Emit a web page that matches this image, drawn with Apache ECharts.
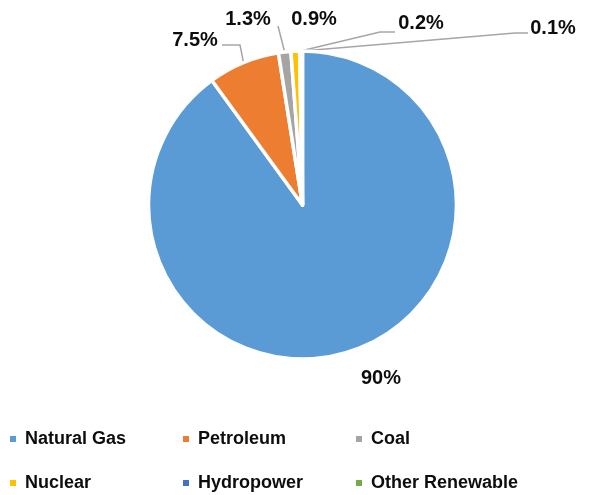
<!DOCTYPE html>
<html>
<head>
<meta charset="utf-8">
<script src="https://cdn.jsdelivr.net/npm/echarts@6/dist/echarts.min.js"></script>
<style>
  html, body { margin: 0; padding: 0; background: #fff; }
  #chart { width: 608px; height: 495px; }
</style>
</head>
<body>
<div id="chart"></div>
<script>
// energy share, percent
const categories = ['Natural Gas', 'Petroleum', 'Coal', 'Nuclear', 'Hydropower', 'Other Renewable']
const shares = [90, 7.5, 1.3, 0.9, 0.2, 0.1]
const colors = ['#5b9bd5', '#ed7d31', '#a5a5a5', '#ffc000', '#4472c4', '#70ad47']

const FONT = '"Liberation Sans", Arial, sans-serif'

// where each percent label sits, and the elbow of its leader line (null = no line)
const labelSpots = [
  { x: 381, y: 378, elbow: null },
  { x: 195, y: 40, elbow: [[240, 45], [222, 45]] },
  { x: 248, y: 19, elbow: [[278, 26], [278, 26]] },
  { x: 314, y: 19, elbow: null },
  { x: 421, y: 23, elbow: [[380, 32], [395, 32]] },
  { x: 553, y: 28, elbow: [[515, 33], [528, 33]] },
]

const chart = echarts.init(document.getElementById('chart'))

const legendBase = {
  left: 3,
  itemWidth: 8,
  itemHeight: 8,
  itemGap: 10,
  icon: 'rect',
  selectedMode: false,
  textStyle: {
    fontFamily: FONT,
    fontSize: 18,
    fontWeight: 'bold',
    color: '#0d0d0d',
    width: 146,
    lineHeight: 20,
    padding: [0, 0, 0, 3],
  },
}

chart.setOption({
  animation: false,
  color: colors,
  legend: [
    Object.assign({}, legendBase, { top: 424, data: categories.slice(0, 3) }),
    Object.assign({}, legendBase, { top: 468, data: categories.slice(3) }),
  ],
  series: [
    {
      type: 'pie',
      center: [302.5, 205],
      radius: 154,
      startAngle: 90,
      clockwise: true,
      avoidLabelOverlap: false,
      itemStyle: { borderColor: '#fff', borderWidth: 3.5 },
      label: {
        show: true,
        position: 'outside',
        formatter: (p) => p.value + '%',
        fontFamily: FONT,
        fontSize: 20,
        fontWeight: 'bold',
        color: '#0d0d0d',
      },
      labelLine: {
        show: true,
        lineStyle: { color: '#a6a6a6', width: 1.5 },
      },
      labelLayout: (params) => {
        const spot = labelSpots[params.dataIndex]
        const out = { x: spot.x, y: spot.y, align: 'center', verticalAlign: 'middle' }
        if (spot.elbow && params.labelLinePoints) {
          out.labelLinePoints = [params.labelLinePoints[0], spot.elbow[0], spot.elbow[1]]
        }
        return out
      },
      data: categories.map((name, i) => ({
        name,
        value: shares[i],
        labelLine: { show: labelSpots[i].elbow !== null },
      })),
    },
  ],
})
</script>
</body>
</html>
